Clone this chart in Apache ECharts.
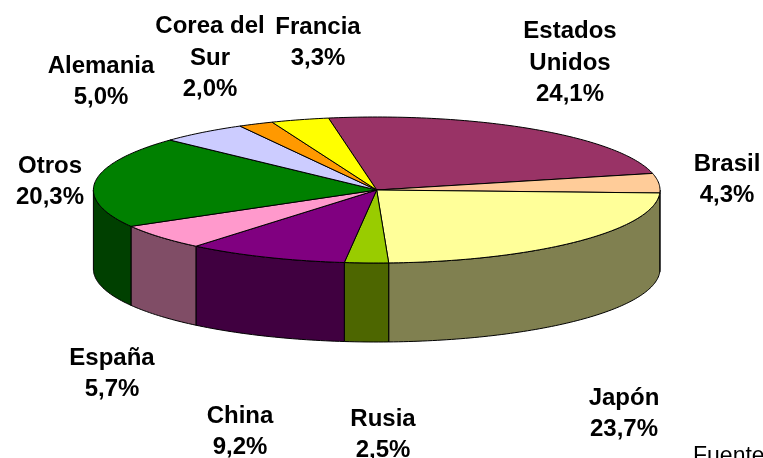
<!DOCTYPE html>
<html>
<head>
<meta charset="utf-8">
<style>html,body{margin:0;padding:0;background:#fff;overflow:hidden}#c{width:763px;height:458px}</style>
<script src="https://cdn.jsdelivr.net/npm/echarts@6/dist/echarts.min.js"></script>
</head>
<body>
<div id="c"></div>
<script>
const categories = ['Estados\nUnidos','Brasil','Japón','Rusia','China','España','Otros','Alemania','Corea del\nSur','Francia'];
const shares = [24.1,4.3,23.7,2.5,9.2,5.7,20.3,5.0,2.0,3.3];
const topColors = ['#993366','#FFCC99','#FFFF99','#99CC00','#800080','#FF99CC','#008000','#CCCCFF','#FF9900','#FFFF00'];
const wallColors = ['#4D1A33','#80664D','#808050','#4D6600','#400040','#804D66','#004000','#666680','#804D00','#808000'];
const labelCentres = [[570,63],[727,180],[624,414],[383,435],[240,432],[112,374],[50,182],[101,82],[210,58],[318,43]];

const CX=376.7, CY=190, RX=283.3, RY=73, DEPTH=79, START=-9.8;
const total = shares.reduce((a,b)=>a+b,0);
const startAngle = i => START + shares.slice(0,i).reduce((a,b)=>a+b,0)/total*360;
const pt = (deg,dy) => {const r=deg*Math.PI/180; return [CX+RX*Math.sin(r), CY-RY*Math.cos(r)+(dy||0)];};
const arc = (a,b,dy) => {
  const n=Math.max(2,Math.ceil(Math.abs(b-a)));
  const out=[];
  for(let k=0;k<=n;k++) out.push(pt(a+(b-a)*k/n,dy));
  return out;
};
const rows = categories.map((c,i)=>[i,shares[i]]);
const edge = {stroke:'#000',lineWidth:1,lineJoin:'round'};

const chart = echarts.init(document.getElementById('c'),null,{renderer:'canvas'});
chart.setOption({
  animation:false,
  backgroundColor:'#fff',
  series:[
    {type:'custom',coordinateSystem:'none',silent:true,data:rows,z:1,
     renderItem(p){
       const i=p.dataIndex;
       const a=Math.max(startAngle(i),90), b=Math.min(startAngle(i)+shares[i]/total*360,270);
       if(b<=a) return {type:'group',children:[]};
       const pts=arc(a,b,0).concat(arc(b,a,DEPTH));
       return {type:'polygon',shape:{points:pts},style:Object.assign({fill:wallColors[i]},edge)};
     }},
    {type:'custom',coordinateSystem:'none',silent:true,data:rows,z:2,
     renderItem(p){
       const i=p.dataIndex;
       const a=startAngle(i), b=a+shares[i]/total*360;
       const pts=[[CX,CY]].concat(arc(a,b,0));
       return {type:'polygon',shape:{points:pts},style:Object.assign({fill:topColors[i]},edge)};
     }},
    {type:'custom',coordinateSystem:'none',silent:true,data:rows,z:3,
     renderItem(p){
       const i=p.dataIndex;
       return {type:'text',style:{
         text:categories[i]+'\n'+shares[i].toFixed(1).replace('.',',')+'%',
         x:labelCentres[i][0],y:labelCentres[i][1],
         align:'center',verticalAlign:'middle',
         fontFamily:'"Liberation Sans",Arial,sans-serif',fontWeight:'bold',fontSize:24,lineHeight:31.7,fill:'#000'}};
     }}
  ],
  graphic:[{type:'text',left:693,top:445,z:5,silent:true,
    style:{text:'Fuente',fontFamily:'"Liberation Sans",Arial,sans-serif',fontSize:23,fill:'#000'}}]
});
</script>
</body>
</html>
